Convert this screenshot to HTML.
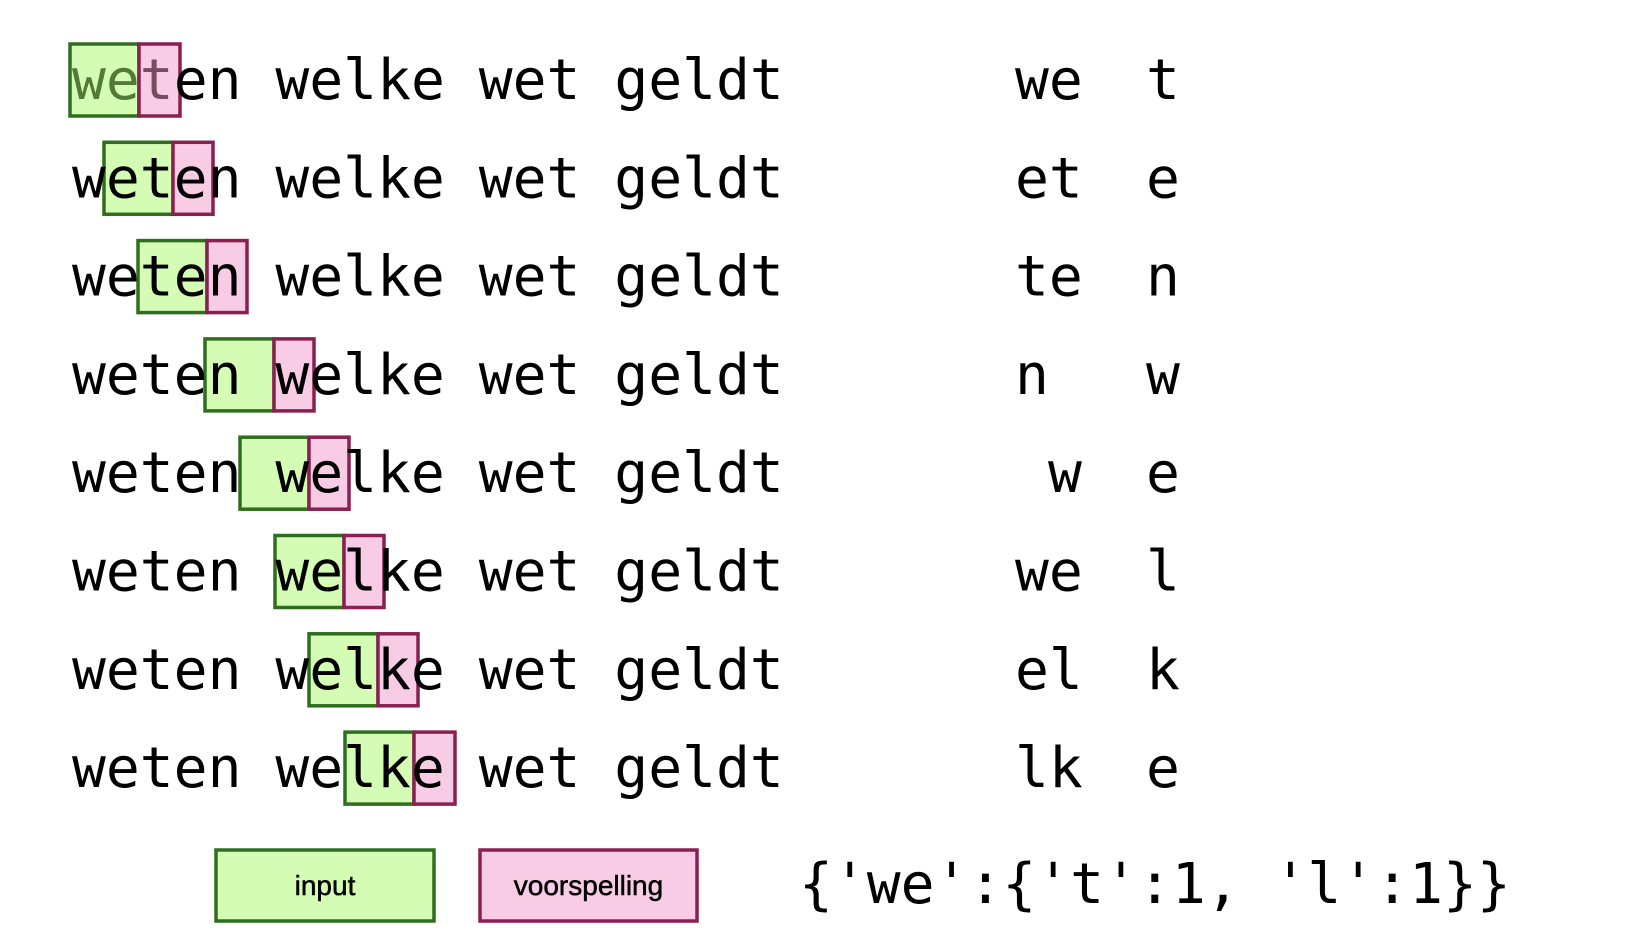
<!DOCTYPE html>
<html><head><meta charset="utf-8"><style>
html,body{margin:0;padding:0;background:#fff;}
svg{display:block}
.m{font-family:"DejaVu Sans Mono","Liberation Mono",monospace;font-size:56.3px;fill:#000}
.l{font-family:"Liberation Sans",sans-serif;font-size:28px;fill:#000;stroke:#000;stroke-width:0.5}
.g{fill:#d4fcb4;stroke:#2f6e1f;stroke-width:3.5}
.p{fill:#f7cce4;stroke:#8b1f52;stroke-width:3.5}
</style></head><body>
<svg width="1646" height="936" viewBox="0 0 1646 936" xmlns="http://www.w3.org/2000/svg">
<g>
<rect class="g" x="70" y="44" width="69" height="72"/><rect class="p" x="139" y="44" width="41" height="72"/>
<rect class="g" x="104" y="142.3" width="69" height="72"/><rect class="p" x="173" y="142.3" width="40" height="72"/>
<rect class="g" x="138" y="240.6" width="69" height="72"/><rect class="p" x="207" y="240.6" width="40" height="72"/>
<rect class="g" x="205" y="338.9" width="69" height="72"/><rect class="p" x="274" y="338.9" width="40" height="72"/>
<rect class="g" x="240" y="437.2" width="69" height="72"/><rect class="p" x="309" y="437.2" width="40" height="72"/>
<rect class="g" x="275" y="535.5" width="69" height="72"/><rect class="p" x="344" y="535.5" width="40" height="72"/>
<rect class="g" x="309" y="633.8" width="69" height="72"/><rect class="p" x="378" y="633.8" width="40" height="72"/>
<rect class="g" x="345" y="732.1" width="69" height="72"/><rect class="p" x="414" y="732.1" width="41" height="72"/>
</g>
<g class="m" xml:space="preserve">
<text x="72" y="99"><tspan fill="#4f7a38">we</tspan><tspan fill="#7a4a62">t</tspan>en welke wet geldt</text>
<text x="72" y="197.3">weten welke wet geldt</text>
<text x="72" y="295.6">weten welke wet geldt</text>
<text x="72" y="393.9">weten welke wet geldt</text>
<text x="72" y="492.2">weten welke wet geldt</text>
<text x="72" y="590.5">weten welke wet geldt</text>
<text x="72" y="688.8">weten welke wet geldt</text>
<text x="72" y="787.1">weten welke wet geldt</text>

<text x="1015" y="99">we</text><text x="1146" y="99">t</text>
<text x="1015" y="197.3">et</text><text x="1146" y="197.3">e</text>
<text x="1015" y="295.6">te</text><text x="1146" y="295.6">n</text>
<text x="1015" y="393.9">n</text><text x="1146" y="393.9">w</text>
<text x="1048" y="492.2">w</text><text x="1146" y="492.2">e</text>
<text x="1015" y="590.5">we</text><text x="1146" y="590.5">l</text>
<text x="1015" y="688.8">el</text><text x="1146" y="688.8">k</text>
<text x="1015" y="787.1">lk</text><text x="1146" y="787.1">e</text>

<text x="799" y="903">{'we':{'t':1, 'l':1}}</text>
</g>
<rect class="g" x="216" y="850" width="218" height="71"/>
<rect class="p" x="480" y="850" width="217" height="71"/>
<text class="l" x="325" y="895" text-anchor="middle">input</text>
<text class="l" x="588.5" y="895" text-anchor="middle">voorspelling</text>
</svg>
</body></html>
